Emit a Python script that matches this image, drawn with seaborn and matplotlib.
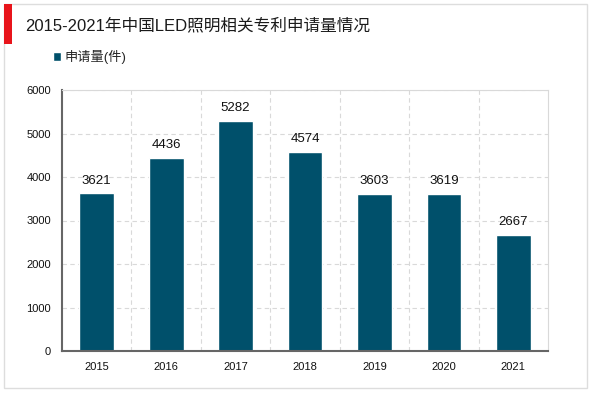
import matplotlib
matplotlib.use('Agg')
import matplotlib.pyplot as plt
from matplotlib.patches import Rectangle, Patch
import seaborn as sns
import pandas as pd

years = ['2015', '2016', '2017', '2018', '2019', '2020', '2021']
counts = [3621, 4436, 5282, 4574, 3603, 3619, 2667]
title = '2015-2021年中国LED照明相关专利申请量情况'
series_name = '申请量(件)'

df = pd.DataFrame({'year': years, 'count': counts})

sns.set_style('white')
plt.rcParams['font.family'] = ['Liberation Sans', 'Noto Sans CJK SC', 'DejaVu Sans']

W, H = 600, 393
fig = plt.figure(figsize=(6, 3.93), dpi=100)

# outer frame and red marker
fig.patches.append(Rectangle((4 / W, 1 - 388 / H), 583 / W, 384 / H, transform=fig.transFigure,
                             fill=False, edgecolor='#DDDDDD', linewidth=1))
fig.patches.append(Rectangle((4 / W, 1 - 44 / H), 8 / W, 40 / H, transform=fig.transFigure,
                             facecolor='#E8141B', edgecolor='none'))
fig.text(25 / W, 1 - 25 / H, title, fontsize=12, va='center', ha='left', color='#1a1a1a',
         family=['Liberation Sans', 'Noto Sans CJK SC'])

ax = fig.add_axes([62 / W, 1 - 351 / H, 486 / W, 261 / H])
bar_color = '#00506B'
sns.barplot(data=df, x='year', y='count', color=bar_color, width=0.5, ax=ax, saturation=1)

for i, v in enumerate(counts):
    ax.annotate(str(v), (i, v), xytext=(0, 5), textcoords='offset points',
                ha='center', va='bottom', fontsize=9.5, color='#111111')

ax.set_xlim(-0.5, len(years) - 0.5)
ax.set_ylim(0, 6000)
ax.set_yticks(range(0, 6001, 1000))
ax.set_xlabel('')
ax.set_ylabel('')
ax.tick_params(axis='both', labelsize=8, length=0, colors='#111111')
ax.tick_params(axis='x', pad=8)
ax.tick_params(axis='y', pad=8)

ax.set_xticks([i + 0.5 for i in range(len(years) - 1)], minor=True)
ax.grid(axis='y', which='major', linestyle=(0, (4, 3)), color='#D9D9D9', linewidth=0.8)
ax.grid(axis='x', which='minor', linestyle=(0, (4, 3)), color='#D9D9D9', linewidth=0.8)
ax.tick_params(axis='x', which='minor', length=0)
ax.set_axisbelow(True)

for s in ['top', 'right']:
    ax.spines[s].set_color('#D9D9D9')
    ax.spines[s].set_linewidth(0.8)
for s in ['left', 'bottom']:
    ax.spines[s].set_color('#666666')
    ax.spines[s].set_linewidth(1.5)

leg = fig.legend(handles=[Patch(facecolor=bar_color, label=series_name)], loc='center left',
                 bbox_to_anchor=(41 / W, 1 - 57 / H), frameon=False, fontsize=9.5,
                 handlelength=0.6, handleheight=0.6, handletextpad=0.3)

fig.savefig('out.png', dpi=100)
